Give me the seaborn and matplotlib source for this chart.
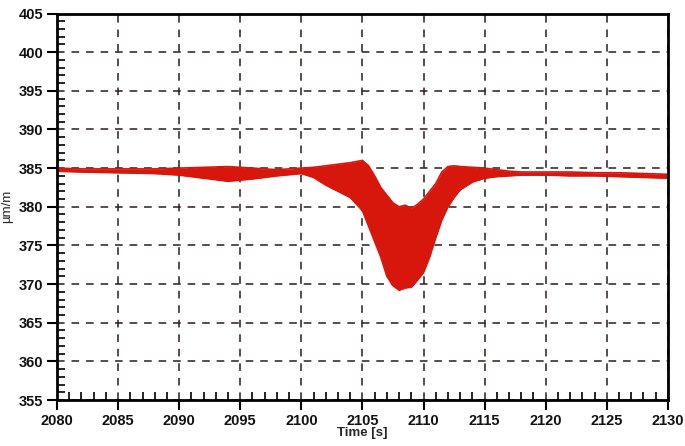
import numpy as np
import pandas as pd
import matplotlib
matplotlib.use("Agg")
import matplotlib.pyplot as plt
from matplotlib.ticker import MultipleLocator
import seaborn as sns

# Envelope of the strain signal (time in s, strain in um/m)
time_s = [2080, 2082, 2085, 2088, 2090, 2092, 2094, 2096, 2098, 2100,
          2101, 2102, 2103, 2104, 2105, 2105.5, 2106, 2106.5, 2107, 2107.5,
          2108, 2108.5, 2109, 2109.5, 2110, 2110.5, 2111, 2111.5, 2112, 2112.5,
          2113, 2114, 2115, 2116, 2117, 2118, 2120, 2122, 2124, 2126, 2128, 2130]
upper = [385.0, 384.9, 384.9, 384.9, 385.0, 385.1, 385.2, 385.0, 384.8, 385.0,
         385.1, 385.3, 385.5, 385.7, 386.0, 385.3, 384.0, 382.5, 381.5, 380.5,
         380.0, 380.2, 379.8, 380.3, 381.0, 382.0, 383.0, 384.5, 385.2, 385.3,
         385.2, 385.1, 385.0, 384.8, 384.6, 384.5, 384.5, 384.5, 384.4, 384.4, 384.3, 384.2]
lower = [384.6, 384.5, 384.4, 384.3, 384.1, 383.7, 383.3, 383.6, 384.0, 384.3,
         383.8, 382.8, 382.0, 381.2, 379.5, 377.5, 375.5, 373.5, 371.0, 369.8,
         369.2, 369.5, 369.6, 370.5, 371.5, 373.5, 376.0, 378.3, 380.0, 381.2,
         382.2, 383.2, 383.7, 383.9, 384.0, 384.1, 384.1, 384.0, 384.0, 383.9, 383.8, 383.7]

df = pd.DataFrame({"time": time_s, "upper": upper, "lower": lower})

sns.set_style("white")
plt.rcParams["font.family"] = ["Liberation Sans", "DejaVu Sans"]

red = "#d7160c"
fig = plt.figure(figsize=(6.85, 4.46), dpi=100)
ax = fig.add_axes([0.0832, 0.1031, 0.8918, 0.8666])

ax.fill_between(df["time"], df["lower"], df["upper"], color=red, linewidth=0)
sns.lineplot(data=df, x="time", y="upper", color=red, linewidth=1.2, ax=ax)
sns.lineplot(data=df, x="time", y="lower", color=red, linewidth=1.2, ax=ax)

ax.set_xlim(2080, 2130)
ax.set_ylim(355, 405)
ax.xaxis.set_major_locator(MultipleLocator(5))
ax.xaxis.set_minor_locator(MultipleLocator(1))
ax.yaxis.set_major_locator(MultipleLocator(5))
ax.yaxis.set_minor_locator(MultipleLocator(1))

ax.grid(True, which="major", color="#2b1d1d", linestyle=(0, (5, 4.5)), linewidth=1.1)
ax.set_axisbelow(True)

for s in ax.spines.values():
    s.set_color("black")
    s.set_linewidth(2.0)

ax.tick_params(which="both", bottom=True, left=True, top=False, right=False)
ax.tick_params(which="major", direction="out", length=7, width=1.5, colors="black",
               labelsize=10.5, pad=3)
ax.tick_params(which="minor", direction="in", length=6, width=1.2, colors="black")
for lab in ax.get_xticklabels() + ax.get_yticklabels():
    lab.set_fontweight("bold")
    lab.set_color("#111111")

ax.set_xlabel("Time [s]", fontsize=9.5, fontweight="bold", labelpad=-1)
ax.set_ylabel("µm/m", fontsize=9.5, labelpad=4)

fig.savefig("out.png", dpi=100)
